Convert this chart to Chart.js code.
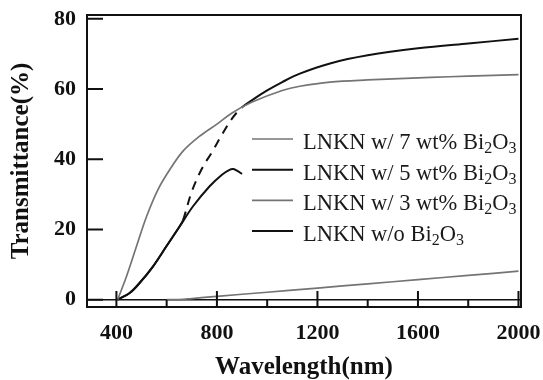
<!DOCTYPE html>
<html>
<head>
<meta charset="utf-8">
<script src="https://cdn.jsdelivr.net/npm/chart.js@4.4.1/dist/chart.umd.min.js"></script>
<style>
  html, body { margin: 0; padding: 0; background: #fff; }
  #wrap { width: 543px; height: 380px; }
</style>
</head>
<body>
<div id="wrap"><canvas id="chart" width="543" height="380"></canvas></div>
<script>
// axis ticks
const xTicks = [400, 800, 1200, 1600, 2000];
const xMinorTicks = [600, 1000, 1400, 1800];
const yTicks = [0, 20, 40, 60, 80];

const seriesNames = [
    'LNKN w/ 7 wt% Bi₂O₃',
    'LNKN w/ 5 wt% Bi₂O₃',
    'LNKN w/ 3 wt% Bi₂O₃',
    'LNKN w/o Bi₂O₃'
];

// LNKN w/ 7 wt% Bi2O3
const wl7 = [405, 440, 480, 520, 565, 612, 665, 730, 800, 860, 940, 1060, 1130, 1250, 1400, 1650, 1800, 2000];
const tr7 = [0, 6.6, 15.2, 23.7, 31.3, 37, 42.3, 46.5, 50, 53.2, 56.3, 59.6, 60.8, 62, 62.6, 63.3, 63.7, 64.1];

// LNKN w/ 5 wt% Bi2O3 (dashed between 665 and 900 nm)
const wl5 = [405, 453, 493, 546, 599, 652, 665, 700, 740, 780, 820, 860, 900, 943, 1000, 1060, 1130, 1250, 1400, 1600, 1800, 2000];
const tr5 = [0, 1.9, 4.8, 9.5, 15.2, 20.9, 22.6, 30.8, 37.3, 42, 47, 51.6, 54.8, 57, 59.6, 62, 64.4, 67.3, 69.6, 71.6, 73, 74.3];
const dashFrom = 665, dashTo = 900;

// LNKN w/ 3 wt% Bi2O3
const wl3 = [600, 650, 700, 800, 1000, 1200, 1400, 1600, 1800, 2000];
const tr3 = [0, 0, 0.3, 0.95, 2.1, 3.3, 4.5, 5.7, 6.9, 8.1];

// LNKN w/o Bi2O3
const wl0 = [405, 453, 493, 546, 599, 652, 705, 771, 820, 850, 865, 883, 900];
const tr0 = [0, 1.9, 4.8, 9.5, 15.2, 20.9, 26.6, 32.3, 35.6, 37, 37.2, 36.6, 35.8];

const GRAY = '#747474';
const BLACK = '#111111';
const SERIF = '"Liberation Serif", "Times New Roman", serif';

function pts(xs, ys) {
    return xs.map((x, i) => ({ x: x, y: ys[i] }));
}

// frame, inward ticks and the in-plot legend
const decor = {
    id: 'decor',
    afterDraw(chart) {
        const ctx = chart.ctx;
        const a = chart.chartArea;
        const xs = chart.scales.x, ys = chart.scales.y;
        ctx.save();
        ctx.strokeStyle = BLACK;
        ctx.lineWidth = 2;
        ctx.strokeRect(a.left, a.top, a.right - a.left, a.bottom - a.top);

        ctx.beginPath();
        yTicks.forEach(v => {
            const y = ys.getPixelForValue(v);
            ctx.moveTo(a.left, y);
            ctx.lineTo(a.left + 16, y);
        });
        xTicks.forEach(v => {
            const x = xs.getPixelForValue(v);
            ctx.moveTo(x, a.bottom);
            ctx.lineTo(x, a.bottom - 16);
        });
        xMinorTicks.forEach(v => {
            const x = xs.getPixelForValue(v);
            ctx.moveTo(x, a.bottom);
            ctx.lineTo(x, a.bottom - 7);
        });
        ctx.stroke();

        // legend
        const subs = { '₀': '0', '₁': '1', '₂': '2', '₃': '3', '₄': '4' };
        chart.data.datasets.forEach((ds, i) => {
            const ly = 139 + i * 30.7;
            ctx.strokeStyle = ds.borderColor;
            ctx.lineWidth = ds.borderWidth;
            ctx.beginPath();
            ctx.moveTo(252, ly);
            ctx.lineTo(293, ly);
            ctx.stroke();

            let tx = 303;
            const base = ly + 10;
            ctx.fillStyle = '#1a1a1a';
            ctx.textBaseline = 'alphabetic';
            ctx.textAlign = 'left';
            for (const ch of ds.label) {
                if (subs[ch]) {
                    ctx.font = '16px ' + SERIF;
                    ctx.fillText(subs[ch], tx, base + 4);
                    tx += ctx.measureText(subs[ch]).width;
                } else {
                    ctx.font = '22.5px ' + SERIF;
                    ctx.fillText(ch, tx, base);
                    tx += ctx.measureText(ch).width;
                }
            }
        });
        ctx.restore();
    }
};

new Chart(document.getElementById('chart'), {
    type: 'line',
    data: {
        datasets: [
            { label: seriesNames[0], data: pts(wl7, tr7), borderColor: GRAY, borderWidth: 1.7 },
            {
                label: seriesNames[1], data: pts(wl5, tr5), borderColor: BLACK, borderWidth: 2,
                segment: {
                    borderDash: ctx => (ctx.p0.parsed.x >= dashFrom && ctx.p1.parsed.x <= dashTo) ? [9, 7] : undefined
                }
            },
            { label: seriesNames[2], data: pts(wl3, tr3), borderColor: GRAY, borderWidth: 1.7 },
            { label: seriesNames[3], data: pts(wl0, tr0), borderColor: BLACK, borderWidth: 2 }
        ]
    },
    options: {
        responsive: false,
        animation: false,
        devicePixelRatio: 1,
        layout: { padding: { top: 15, right: 22, left: 0, bottom: 0 } },
        elements: {
            point: { radius: 0 },
            line: { tension: 0.35, fill: false }
        },
        plugins: {
            legend: { display: false },
            tooltip: { enabled: false }
        },
        scales: {
            x: {
                type: 'linear',
                min: 283,
                max: 2010,
                afterBuildTicks: s => { s.ticks = xTicks.map(v => ({ value: v })); },
                afterFit: s => { s.height = 73; s.paddingLeft = 0; s.paddingRight = 0; },
                grid: { display: false },
                border: { display: false },
                ticks: {
                    padding: 7,
                    color: BLACK,
                    maxRotation: 0,
                    font: { family: SERIF, size: 22, weight: 'bold', lineHeight: 1 },
                    callback: v => String(v)
                },
                title: {
                    display: true,
                    text: 'Wavelength(nm)',
                    color: BLACK,
                    padding: { top: 0, bottom: 0 },
                    font: { family: SERIF, size: 25, weight: 'bold', lineHeight: 1 }
                }
            },
            y: {
                min: -2.1,
                max: 81.1,
                afterBuildTicks: s => { s.ticks = yTicks.map(v => ({ value: v })); },
                afterFit: s => { s.width = 87; s.paddingTop = 0; s.paddingBottom = 0; },
                grid: {
                    drawTicks: false,
                    color: c => (c.tick && c.tick.value === 0) ? BLACK : 'rgba(0,0,0,0)',
                    lineWidth: 1.5
                },
                border: { display: false },
                ticks: {
                    padding: 11,
                    color: BLACK,
                    font: { family: SERIF, size: 22, weight: 'bold', lineHeight: 1 },
                    callback: v => String(v)
                },
                title: {
                    display: true,
                    text: 'Transmittance(%)',
                    color: BLACK,
                    padding: { top: 9, bottom: 0 },
                    font: { family: SERIF, size: 25, weight: 'bold', lineHeight: 1 }
                }
            }
        }
    },
    plugins: [decor]
});
</script>
</body>
</html>
